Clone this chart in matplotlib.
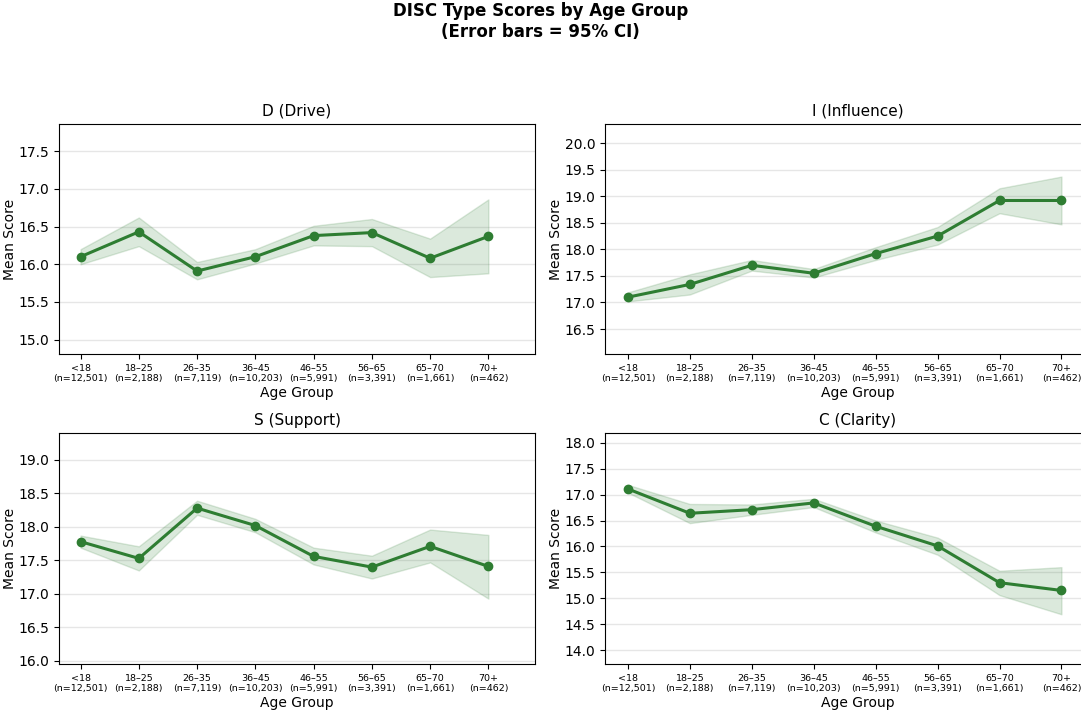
import numpy as np
import matplotlib.pyplot as plt
from matplotlib.ticker import MultipleLocator

# age groups and sample sizes
groups = ['<18', '18–25', '26–35', '36–45', '46–55', '56–65', '65–70', '70+']
counts = [12501, 2188, 7119, 10203, 5991, 3391, 1661, 462]

# mean scores and 95% CI bounds
d_mean = [16.10, 16.43, 15.91, 16.10, 16.38, 16.42, 16.08, 16.37]
d_lo = [16.00, 16.24, 15.80, 16.01, 16.25, 16.24, 15.83, 15.88]
d_hi = [16.20, 16.62, 16.03, 16.20, 16.51, 16.60, 16.34, 16.86]

i_mean = [17.10, 17.34, 17.70, 17.55, 17.92, 18.25, 18.92, 18.92]
i_lo = [17.02, 17.15, 17.60, 17.47, 17.80, 18.09, 18.68, 18.47]
i_hi = [17.19, 17.53, 17.80, 17.63, 18.04, 18.42, 19.15, 19.37]

s_mean = [17.78, 17.53, 18.28, 18.02, 17.56, 17.40, 17.71, 17.41]
s_lo = [17.69, 17.35, 18.18, 17.92, 17.44, 17.23, 17.47, 16.93]
s_hi = [17.87, 17.71, 18.39, 18.12, 17.69, 17.57, 17.96, 17.88]

c_mean = [17.11, 16.64, 16.71, 16.84, 16.39, 16.01, 15.30, 15.15]
c_lo = [17.04, 16.45, 16.61, 16.76, 16.27, 15.84, 15.06, 14.69]
c_hi = [17.19, 16.82, 16.81, 16.92, 16.50, 16.17, 15.53, 15.60]

titles = ['D (Drive)', 'I (Influence)', 'S (Support)', 'C (Clarity)']
means = [d_mean, i_mean, s_mean, c_mean]
lows = [d_lo, i_lo, s_lo, c_lo]
highs = [d_hi, i_hi, s_hi, c_hi]
ylims = [(14.81, 17.86), (16.03, 20.36), (15.955, 19.40), (13.73, 18.19)]

green = '#2e7d32'
labels = [f'{g}\n(n={n:,})' for g, n in zip(groups, counts)]
x = np.arange(len(groups))

fig = plt.figure(figsize=(10.81, 7.13), dpi=100)
W, H = 1081, 713
# axes boxes in pixels: left, top, right, bottom
boxes = [(59, 124, 535, 354), (605, 124, 1111, 354),
         (59, 433, 535, 664), (605, 433, 1111, 664)]

for k in range(4):
    l, t, r, b = boxes[k]
    ax = fig.add_axes([l / W, 1 - b / H, (r - l) / W, (b - t) / H])
    ax.fill_between(x, lows[k], highs[k], color=green, alpha=0.17, linewidth=1)
    ax.plot(x, means[k], color=green, lw=2.2, marker='o', ms=6)
    ax.set_title(titles[k], fontsize=11)
    ax.set_xticks(x)
    ax.set_xticklabels(labels, fontsize=6.8)
    ax.set_xlim(-0.37, 7.8)
    ax.set_ylim(*ylims[k])
    ax.yaxis.set_major_locator(MultipleLocator(0.5))
    ax.tick_params(axis='y', labelsize=10)
    ax.set_xlabel('Age Group', fontsize=10, labelpad=2)
    ax.set_ylabel('Mean Score', fontsize=10)
    ax.yaxis.set_label_coords(-42 / (r - l), 0.5)
    ax.yaxis.grid(True, color='#e6e6e6', lw=1)
    ax.set_axisbelow(True)

fig.suptitle('DISC Type Scores by Age Group\n(Error bars = 95% CI)',
             fontsize=12, fontweight='bold', y=0.997)

fig.savefig('out.png', dpi=100)
